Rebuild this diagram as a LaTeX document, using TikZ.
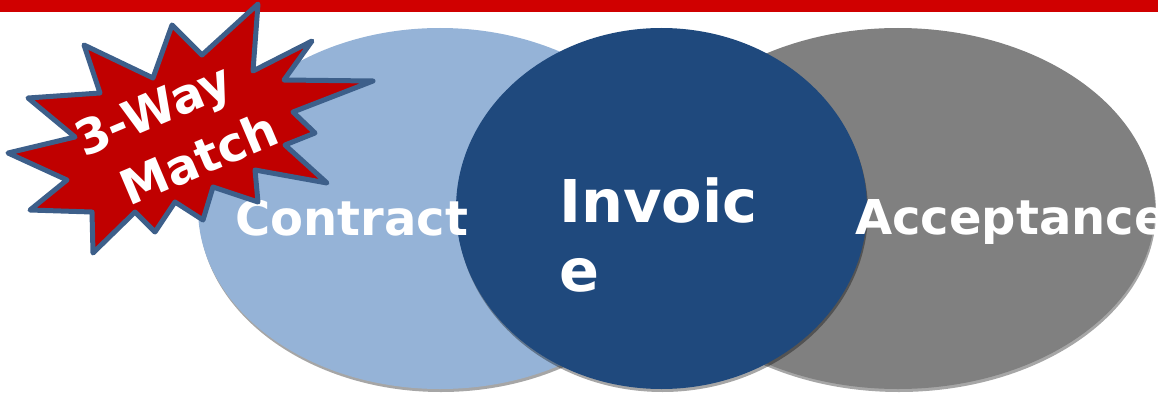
\documentclass[tikz,border=0pt]{standalone}
\usepackage{fontspec}
\setmainfont{DejaVu Sans}
\definecolor{barred}{RGB}{208,0,0}
\definecolor{lightblue}{RGB}{149,179,215}
\definecolor{darkblue}{RGB}{31,73,125}
\definecolor{midgray}{RGB}{128,128,128}
\definecolor{starred}{RGB}{192,0,0}
\definecolor{starline}{RGB}{61,95,138}
\begin{document}
\begin{tikzpicture}[x=1pt,y=-1pt,
  shadowstyle/.style={fill=black,opacity=0.35},
  bigtext/.style={text=white,font=\bfseries,inner sep=0pt},
  startext/.style={text=white,inner sep=0pt,rotate=23,font=\bfseries\fontsize{48}{58}\selectfont}]
\useasboundingbox (0,0) rectangle (1158,396);
\clip (0,0) rectangle (1158,396);
\fill[barred] (0,0) rectangle (1158,12);
% light blue
\fill[shadowstyle] (441,211.5) ellipse [x radius=242pt, y radius=180.5pt];
\fill[lightblue] (440,208.5) ellipse [x radius=242pt, y radius=180.5pt];
% gray
\fill[shadowstyle] (899,211.5) ellipse [x radius=257pt, y radius=180.5pt];
\fill[midgray] (898,208.5) ellipse [x radius=257pt, y radius=180.5pt];
% dark blue
\fill[shadowstyle] (662.5,211.5) ellipse [x radius=205.5pt, y radius=180.5pt];
\fill[darkblue] (661.5,208.5) ellipse [x radius=205.5pt, y radius=180.5pt];
% texts
\node[bigtext,anchor=base west,font=\bfseries\fontsize{48}{58}\selectfont] (contract) at (235,235) {Contract};
\node[bigtext,anchor=base west,font=\bfseries\fontsize{48}{58}\selectfont] (accept) at (855,234) {Acceptance};
\node[bigtext,anchor=base west,font=\bfseries\fontsize{59}{69}\selectfont] (invoice) at (559,222) {\vtop{\baselineskip=69pt\hbox{Invoic}\hbox{e}}};
% star
\draw[starline,fill=starred,line width=5pt,line join=round]
  (258,4) -- (253,71) -- (312,41) -- (284,80) -- (373,81) -- (293,112)
  -- (315,133) -- (285,145) -- (327,183) -- (255,170) -- (258,202)
  -- (213,187) -- (203,220) -- (175,202) -- (155,232) -- (135,212)
  -- (93,253) -- (92,212) -- (30,210) -- (67,180) -- (8,153)
  -- (75,137) -- (28,98) -- (100,93) -- (84,45) -- (153,78)
  -- (172,25) -- (202,55) -- cycle;
\node[startext] (way) at (155,114) {3-Way};
\node[startext] (match) at (199,158) {Match};
\end{tikzpicture}
\end{document}
